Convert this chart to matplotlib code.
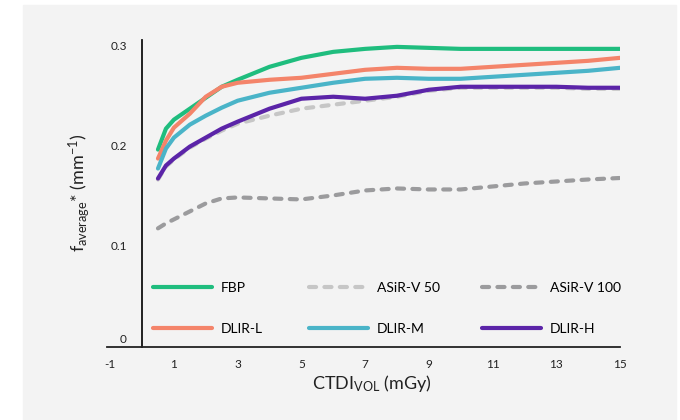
# Line chart of f_average* against CTDIvol for FBP, ASiR-V and DLIR recons

import matplotlib
matplotlib.use('Agg')
import matplotlib.pyplot as plt
from matplotlib.patches import Rectangle

plt.rcParams['font.family'] = ['Lato', 'DejaVu Sans']
plt.rcParams['mathtext.default'] = 'regular'

# dose levels (mGy)
dose = [0.5, 0.75, 1, 1.5, 2, 2.5, 3, 4, 5, 6, 7, 8, 9, 10, 11, 12, 13, 14, 15]

fbp = [0.196, 0.217, 0.226, 0.237, 0.248, 0.259, 0.266, 0.279, 0.288, 0.294,
       0.297, 0.299, 0.298, 0.297, 0.297, 0.297, 0.297, 0.297, 0.297]
asir50 = [0.166, 0.179, 0.186, 0.198, 0.207, 0.215, 0.222, 0.230, 0.237, 0.241,
          0.245, 0.249, 0.255, 0.258, 0.258, 0.258, 0.258, 0.257, 0.257]
asir100 = [0.117, 0.122, 0.126, 0.134, 0.142, 0.147, 0.148, 0.147, 0.146, 0.150,
           0.155, 0.157, 0.156, 0.156, 0.159, 0.162, 0.164, 0.166, 0.1675]
dlir_l = [0.187, 0.205, 0.218, 0.232, 0.249, 0.259, 0.263, 0.266, 0.268, 0.272,
          0.276, 0.278, 0.277, 0.277, 0.279, 0.281, 0.283, 0.285, 0.288]
dlir_m = [0.177, 0.197, 0.208, 0.221, 0.230, 0.238, 0.245, 0.253, 0.258, 0.263,
          0.267, 0.268, 0.267, 0.267, 0.269, 0.271, 0.273, 0.275, 0.278]
dlir_h = [0.167, 0.180, 0.187, 0.199, 0.208, 0.217, 0.224, 0.237, 0.247, 0.249,
          0.247, 0.250, 0.256, 0.259, 0.259, 0.259, 0.259, 0.258, 0.258]

series = [
    ('FBP', fbp, '#1fbd7e', None),
    ('ASiR-V 50', asir50, '#c6c6c6', (1.7, 2.0)),
    ('ASiR-V 100', asir100, '#9b9b9d', (1.7, 2.0)),
    ('DLIR-L', dlir_l, '#f4846a', None),
    ('DLIR-M', dlir_m, '#4ab4c8', None),
    ('DLIR-H', dlir_h, '#5b24a8', None),
]

x_ticks = [-1, 1, 3, 5, 7, 9, 11, 13, 15]
y_ticks = [0, 0.1, 0.2, 0.3]
y_tick_labels = ['0', '0.1', '0.2', '0.3']

fig = plt.figure(figsize=(6.8, 4.2), dpi=100)
# gray panel behind the chart
fig.patches.append(Rectangle((23 / 680, 0), 653 / 680, 415 / 420,
                             transform=fig.transFigure, color='#f3f3f3',
                             zorder=-10))

ax = fig.add_axes([107 / 680, 73 / 420, 513 / 680, 307.5 / 420])
ax.set_facecolor('none')

handles = {}
for label, vals, color, dashes in series:
    kw = dict(color=color, linewidth=3.0, solid_capstyle='round',
              dash_capstyle='round', solid_joinstyle='round')
    if dashes:
        kw['dashes'] = dashes
    line, = ax.plot(dose, vals, label=label, **kw)
    handles[label] = line

ax.set_xlim(-1.1, 15)
ax.set_ylim(-0.002, 0.3064)

# axes lines
for side in ['top', 'right']:
    ax.spines[side].set_visible(False)
ax.spines['left'].set_position(('data', 0))
ax.spines['left'].set_linewidth(1.3)
ax.spines['bottom'].set_linewidth(1.3)
ax.spines['left'].set_color('#111111')
ax.spines['bottom'].set_color('#222222')

ax.set_xticks(x_ticks)
ax.set_xticklabels([str(t) for t in x_ticks])
ax.set_yticks(y_ticks)
ax.set_yticklabels(y_tick_labels)
ax.tick_params(axis='both', length=0, labelsize=8.5, colors='#222222')
ax.tick_params(axis='y', pad=11)
ax.tick_params(axis='x', pad=9)
ax.get_yticklabels()[0].set_va('bottom')

ax.set_xlabel(r'CTDI$_{VOL}$ (mGy)', fontsize=13, color='#222222')
ax.xaxis.set_label_coords(0.517, -0.085)
ax.set_ylabel(r'f$_{average}$* (mm$^{-1}$)', fontsize=13,
              color='#222222')
ax.yaxis.set_label_coords(-0.03, 0.5)

# legend: three columns of two entries
columns = [('FBP', 'DLIR-L'), ('ASiR-V 50', 'DLIR-M'),
           ('ASiR-V 100', 'DLIR-H')]
col_x = [0.081, 0.385, 0.722]
for i, (top, bottom) in enumerate(columns):
    leg = ax.legend([handles[top], handles[bottom]], [top, bottom],
                    loc='lower left', bbox_to_anchor=(col_x[i], 0.0245),
                    frameon=False, fontsize=10, handlelength=4.3,
                    handletextpad=0.6, labelspacing=2.13, borderpad=0.3,
                    borderaxespad=0)
    if i < 2:
        ax.add_artist(leg)

fig.savefig('out.png', dpi=100)
